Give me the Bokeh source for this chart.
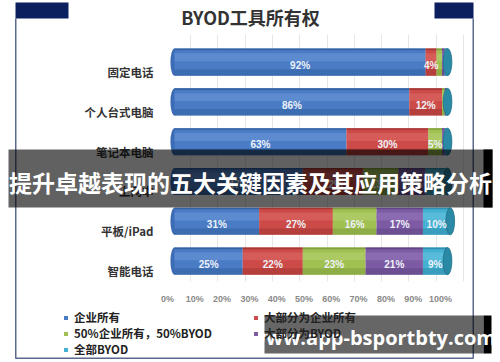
import numpy as np
from bokeh.plotting import figure
from bokeh.models import (FactorRange, Range1d, LinearAxis, FixedTicker,
                          PrintfTickFormatter, ColumnDataSource, BoxAnnotation, Label, Legend,
                          LegendItem, Grid)
from bokeh.transform import dodge
from bokeh.core.properties import value
from bokeh.embed import file_html
from bokeh.resources import INLINE

# ---------------- data ----------------
categories = ["固定电话", "个人台式电脑", "笔记本电脑", "上网本", "平板/iPad", "智能电话"]
series_names = ["企业所有", "大部分为企业所有", "50%企业所有，50%BYOD", "大部分为BYOD", "全部BYOD"]
corp_all = [92, 86, 63, 47, 31, 25]
corp_most = [4, 12, 30, 22, 27, 22]
half_half = [2, 1, 5, 13, 16, 23]
byod_most = [1, 0.5, 1, 10, 17, 21]
byod_all = [1, 0.5, 1, 8, 10, 9]
x_ticks = [0, 10, 20, 30, 40, 50, 60, 70, 80, 90, 100]
title_text = "BYOD工具所有权"
banner_text = "提升卓越表现的五大关键因素及其应用策略分析"
watermark_text = "www.app-bsportbty.com"

series = [corp_all, corp_most, half_half, byod_most, byod_all]
base_colors = ["#4a7cc6", "#cc4a47", "#a0c052", "#7d5ba4", "#45b1d2"]
light_colors = ["#6f9ad8", "#dd6e6a", "#b8d274", "#9879bb", "#6cc6e2"]
dark_colors = ["#32609f", "#a33633", "#7f9c3c", "#5e4384", "#2f8cab"]

CJK = "Noto Sans CJK SC"
W, HGT = 500, 362

# blank spacer factors keep the rows where the picture has them
spacers_bottom = ["  ", " "]
spacers_top = ["   "]
y_factors = spacers_bottom + categories[::-1] + spacers_top

p = figure(width=W, height=HGT,
           y_range=FactorRange(factors=y_factors, range_padding=0.0477,
                               range_padding_units="absolute", factor_padding=0),
           x_range=Range1d(-63.74, 119.41),
           output_backend="svg", toolbar_location=None,
           x_axis_location=None, y_axis_location=None,
           min_border_left=0, min_border_right=0, min_border_top=0, min_border_bottom=0)
p.outline_line_color = None
p.xgrid.visible = False
p.ygrid.visible = False
p.background_fill_color = "white"
p.border_fill_color = "white"

# helper x ranges used only to pin the axes in place
p.extra_x_ranges = {"ax": Range1d(-61.17, 121.98), "px": Range1d(0, W)}

# faint back-wall grid lines
p.add_layout(Grid(dimension=0, ticker=FixedTicker(ticks=[t + 5.86 for t in x_ticks]),
                  grid_line_color="#e6e6e6", grid_line_width=1, cross_bounds=(2.0, 8.2)))

# percentage axis (fixed inside the frame, below the last row)
xax = LinearAxis(x_range_name="ax", fixed_location=1.761,
                 ticker=FixedTicker(ticks=x_ticks), formatter=PrintfTickFormatter(format="%d%%"))
xax.axis_line_color = None
xax.major_tick_line_color = None
xax.minor_tick_line_color = None
xax.major_tick_out = 0
xax.major_tick_in = 0
xax.major_label_standoff = 3
xax.major_label_text_font = "Arial"
xax.major_label_text_font_size = "9px"
xax.major_label_text_font_style = "bold"
xax.major_label_text_color = "#8a8a8a"
p.add_layout(xax, "below")

# category labels: ticks at each factor's position on the categorical scale,
# nudged a quarter row down as in the picture
label_shift = 0.25
cat_ticks = [y_factors.index(c) + 0.5 - label_shift for c in categories]
yax = LinearAxis(x_range_name="px", fixed_location=153,
                 ticker=FixedTicker(ticks=cat_ticks, minor_ticks=[]))
yax.major_label_overrides = {t: c for t, c in zip(cat_ticks, categories)}
yax.axis_line_color = None
yax.major_tick_line_color = None
yax.minor_tick_line_color = None
yax.major_tick_out = 0
yax.major_tick_in = 0
yax.major_label_standoff = 0
yax.major_label_text_font = CJK
yax.major_label_text_font_size = "11.5px"
yax.major_label_text_font_style = "bold"
yax.major_label_text_color = "#333333"
p.add_layout(yax, "left")

H = 0.68
left = np.zeros(len(categories))
legend_items = []
label_x, label_y, label_t = [], [], []
for i, vals in enumerate(series):
    vals = np.array(vals, dtype=float)
    right = left + vals
    src = ColumnDataSource(dict(cat=categories, left=left.copy(), right=right.copy()))
    if i == 0:
        p.ellipse(x=0, y="cat", width=3, height=H, source=ColumnDataSource(dict(cat=categories)),
                  fill_color="#3c6cb4", line_color=None)
    r = p.hbar(y="cat", left="left", right="right", height=H, source=src,
               fill_color=base_colors[i], line_color=None)
    p.hbar(y=dodge("cat", 0.12, range=p.y_range), left="left", right="right", height=0.2,
           source=src, fill_color=light_colors[i], line_color=None, fill_alpha=0.5)
    p.hbar(y=dodge("cat", -0.26, range=p.y_range), left="left", right="right", height=0.16,
           source=src, fill_color=dark_colors[i], line_color=None, fill_alpha=0.55)
    p.hbar(y=dodge("cat", 0.32, range=p.y_range), left="left", right="right", height=0.04,
           source=src, fill_color=dark_colors[i], line_color=None, fill_alpha=0.9)
    legend_items.append(LegendItem(label=series_names[i], renderers=[r]))
    for c, l, v in zip(categories, left, vals):
        if v >= 4:
            label_x.append(l + v / 2)
            label_y.append(c)
            label_t.append(f"{int(v)}%")
    left = right

# right end caps of the cylinders
p.ellipse(x="tot", y="cat", width=3.2, height=H,
          source=ColumnDataSource(dict(cat=categories, tot=list(left))),
          fill_color="#2a8aa6", line_color="#1f6f88", line_width=0.8)

p.text(x="x", y=dodge("y", -0.08, range=p.y_range), text="t",
       source=ColumnDataSource(dict(x=label_x, y=label_y, t=label_t)),
       text_align="center", text_baseline="middle", text_font=value("Arial"),
       text_font_size="10px", text_font_style="bold", text_color="#eef2f8")

legend = Legend(items=legend_items, orientation="horizontal", ncols=2,
                location=(63, 5), padding=0, margin=0, spacing=0,
                glyph_width=5, glyph_height=5, label_standoff=6, label_height=14,
                label_width=179,
                label_text_font=CJK, label_text_font_size="11.5px",
                label_text_font_style="bold", label_text_color="#222222",
                border_line_color=None, background_fill_alpha=0)
p.add_layout(legend, "center")


def box(l, r, t, b, color, alpha=1.0):
    p.add_layout(BoxAnnotation(left=l, right=r, top=t, bottom=b,
                               left_units="canvas", right_units="canvas",
                               top_units="canvas", bottom_units="canvas",
                               fill_color=color, fill_alpha=alpha, line_color=None,
                               level="overlay"))


# decorations: frame and title
box(15, 68, 2, 18, "#0b1f5e")
box(434, 473, 2, 18, "#0b1f5e")
box(14.5, 16, 18, 358, "#5a6a8e")
box(472, 473.5, 18, 358, "#5a6a8e")
box(15, 473, 357, 358.5, "#5a6a8e")
p.add_layout(Label(x=250, y=16.5, x_units="canvas", y_units="canvas", text=title_text,
                   text_align="center", text_baseline="middle", text_font=CJK,
                   text_font_size="18px", text_font_style="bold", text_color="#333333"))

# banner overlay
box(8, 492, 149, 207, "#000000", 0.62)
box(483, 492, 149, 207, "#000000", 1.0)
p.add_layout(Label(x=250, y=181, x_units="canvas", y_units="canvas", text=banner_text,
                   text_align="center", text_baseline="middle", text_font=CJK,
                   text_font_size="23px", text_font_style="bold", text_color="white", level="overlay"))

# watermark
box(264, 483, 315, 353, "#000000", 0.6)
box(483, 491, 315, 353, "#000000", 1.0)
p.add_layout(Label(x=372, y=337, x_units="canvas", y_units="canvas", text=watermark_text,
                   text_align="center", text_baseline="middle", text_font="Open Sans",
                   text_font_size="20px", text_font_style="bold", text_color="white", level="overlay"))

open("out.html", "w").write(file_html(p, INLINE))
